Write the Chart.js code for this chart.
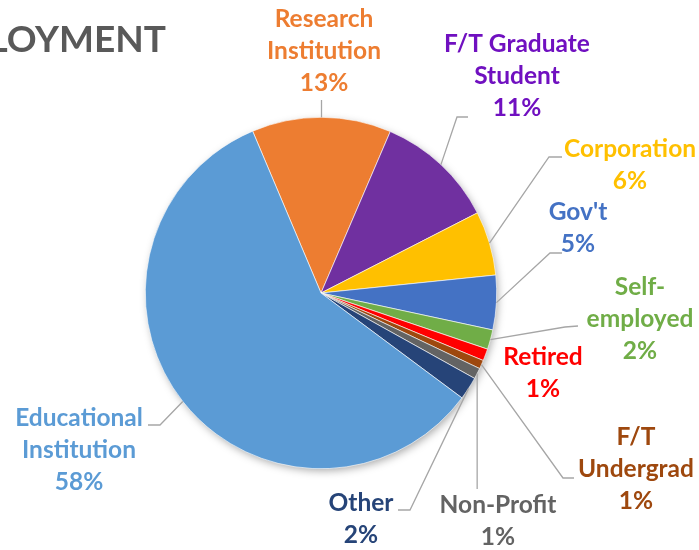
<!DOCTYPE html>
<html>
<head>
<meta charset="utf-8">
<script src="https://cdn.jsdelivr.net/npm/chart.js@4"></script>
<style>
  html, body { margin: 0; padding: 0; background: #fff; }
  #wrap { width: 699px; height: 550px; position: relative; }
</style>
</head>
<body>
<div id="wrap"><canvas id="employmentChart"></canvas></div>
<script>
// data (share of respondents, %)
const categories = [
    ['Research', 'Institution'],
    ['F/T Graduate', 'Student'],
    ['Corporation'],
    ["Gov't"],
    ['Self-', 'employed'],
    ['Retired'],
    ['F/T', 'Undergrad'],
    ['Non-Profit'],
    ['Other'],
    ['Educational', 'Institution']
];
const shares = [12.8, 11.0, 5.9, 5.0, 1.8, 1.1, 0.8, 1.0, 2.1, 58.4];
const sliceColors = ['#ED7D31', '#7030A0', '#FFC000', '#4472C4', '#70AD47',
                     '#FF0000', '#9E480E', '#636363', '#264478', '#5B9BD5'];
const labelColors = ['#ED7D31', '#7010C0', '#FFC000', '#4472C4', '#70AD47',
                     '#FF0000', '#9E480E', '#636363', '#264478', '#5B9BD5'];

// where each label sits (centre x, first line y) and the bend points of its leader line
const labelLayout = [
    { x: 324, y: 19,  leader: [['arc', 100]] },
    { x: 517, y: 44,  leader: [[457, 117], [468, 117]] },
    { x: 630, y: 149, leader: [[549, 157], [562, 157]] },
    { x: 578, y: 212, leader: [[550, 253], [562, 253]] },
    { x: 640, y: 287, leader: [[565, 327], [578, 326]] },
    { x: 543, y: 357, leader: null },
    { x: 636, y: 437, leader: [[563, 478], [574, 478]] },
    { x: 498, y: 505, leader: [['arc', 489]] },
    { x: 361, y: 503, leader: [[410, 510], [398, 510]] },
    { x: 79,  y: 418, leader: [[160, 425], [148, 425]] }
];

const labelFont = 'bold 24.5px Lato, "Open Sans", sans-serif';
const lineHeight = 32;

// soft shadow under the pie
const pieShadow = {
    id: 'pieShadow',
    beforeDatasetsDraw(chart) {
        const arc = chart.getDatasetMeta(0).data[0];
        if (!arc) return;
        const ctx = chart.ctx;
        ctx.save();
        ctx.shadowColor = 'rgba(0,0,0,0.35)';
        ctx.shadowBlur = 8;
        ctx.shadowOffsetX = 2;
        ctx.shadowOffsetY = 3;
        ctx.fillStyle = '#fff';
        ctx.beginPath();
        ctx.arc(arc.x, arc.y, arc.outerRadius - 1, 0, Math.PI * 2);
        ctx.fill();
        ctx.restore();
    }
};

// outside labels with leader lines
const outsideLabels = {
    id: 'outsideLabels',
    afterDatasetsDraw(chart) {
        const ctx = chart.ctx;
        const meta = chart.getDatasetMeta(0);
        const total = shares.reduce((a, b) => a + b, 0);
        ctx.save();
        meta.data.forEach((arc, i) => {
            const layout = labelLayout[i];
            const mid = (arc.startAngle + arc.endAngle) / 2;
            const sx = arc.x + Math.cos(mid) * arc.outerRadius;
            const sy = arc.y + Math.sin(mid) * arc.outerRadius;

            if (layout.leader) {
                ctx.strokeStyle = '#A6A6A6';
                ctx.lineWidth = 1.3;
                ctx.beginPath();
                ctx.moveTo(sx, sy);
                layout.leader.forEach(p => {
                    const px = p[0] === 'arc' ? sx : p[0];
                    ctx.lineTo(px, p[1]);
                });
                ctx.stroke();
            }

            const pct = Math.round(shares[i] / total * 100) + '%';
            const lines = categories[i].concat([pct]);
            ctx.font = labelFont;
            ctx.fillStyle = labelColors[i];
            ctx.textAlign = 'center';
            ctx.textBaseline = 'middle';
            lines.forEach((t, k) => ctx.fillText(t, layout.x, layout.y + k * lineHeight));
        });

        // title, cut off on the left like in the original
        ctx.font = 'bold 37px Lato, "Open Sans", sans-serif';
        ctx.fillStyle = '#595959';
        ctx.textAlign = 'right';
        ctx.textBaseline = 'middle';
        ctx.fillText('EMPLOYMENT', 166, 40);
        ctx.restore();
    }
};

const ctx = document.getElementById('employmentChart').getContext('2d');
new Chart(ctx, {
    type: 'pie',
    data: {
        labels: categories.map(c => c.join(' ')),
        datasets: [{
            data: shares,
            backgroundColor: sliceColors,
            borderColor: '#ffffff',
            borderWidth: 0.6
        }]
    },
    options: {
        responsive: true,
        maintainAspectRatio: false,
        animation: false,
        rotation: -22.9,
        layout: {
            padding: { left: 145, right: 202, top: 117, bottom: 81 }
        },
        plugins: {
            legend: { display: false },
            tooltip: { enabled: false },
            title: { display: false }
        }
    },
    plugins: [pieShadow, outsideLabels]
});
</script>
</body>
</html>
